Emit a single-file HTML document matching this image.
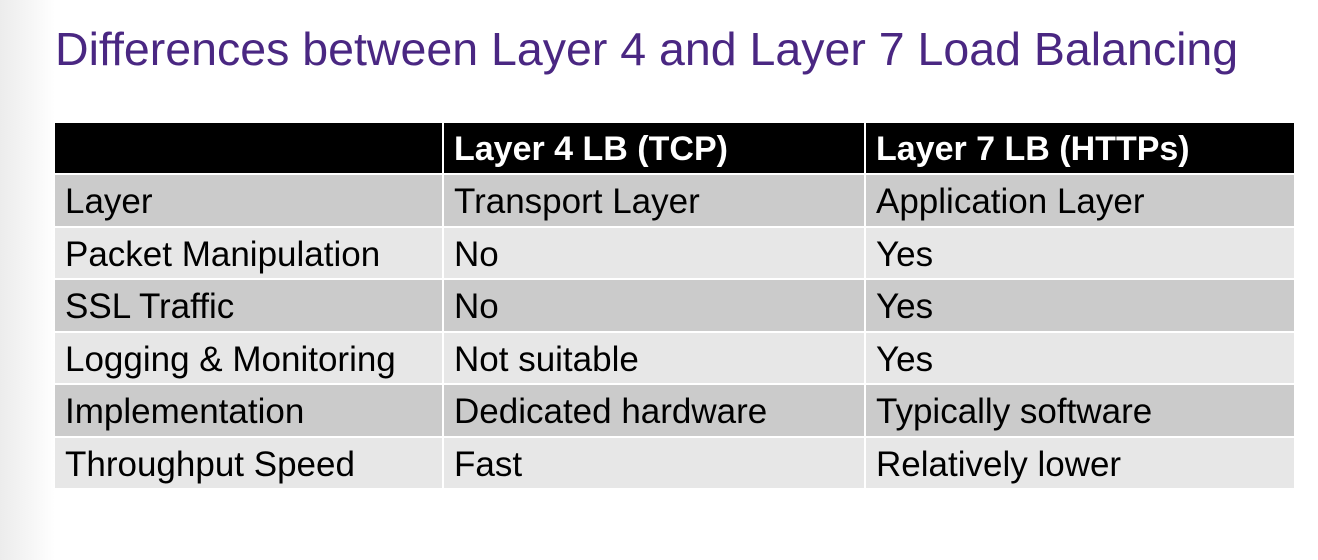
<!DOCTYPE html>
<html><head><meta charset="utf-8"><style>
html,body{margin:0;padding:0}
body{width:1318px;height:560px;position:relative;overflow:hidden;font-family:"Liberation Sans",Arial,sans-serif;background:linear-gradient(to right,#ececec 0px,#f6f6f6 30px,#fff 55px,#fff 100%)}
h1{position:absolute;left:55px;top:22px;margin:0;font-weight:normal;font-size:46.5px;color:#4a2782;white-space:nowrap}
table{position:absolute;left:55px;top:123px;border-collapse:collapse;width:1239px;table-layout:fixed}
td{padding:4px 0 0 10px;font-size:35px;line-height:40px;color:#000;height:52.5px;border:2px solid #fff;box-sizing:border-box;white-space:nowrap;overflow:hidden}
tr.h td{background:#000;color:#fff;font-weight:bold;font-size:34px;height:51px;border-top:none;padding-top:2px}
tr.d td{background:#cbcbcb}
tr.l td{background:#e7e7e7}
td:first-child{border-left:none}
td:last-child{border-right:none}
</style></head><body>
<h1>Differences between Layer 4 and Layer 7 Load Balancing</h1>
<table>
<colgroup><col style="width:388px"><col style="width:422px"><col style="width:429px"></colgroup>
<tr class="h"><td></td><td>Layer 4 LB (TCP)</td><td>Layer 7 LB (HTTPs)</td></tr>
<tr class="d"><td>Layer</td><td>Transport Layer</td><td>Application Layer</td></tr>
<tr class="l"><td>Packet Manipulation</td><td>No</td><td>Yes</td></tr>
<tr class="d"><td>SSL Traffic</td><td>No</td><td>Yes</td></tr>
<tr class="l"><td>Logging &amp; Monitoring</td><td>Not suitable</td><td>Yes</td></tr>
<tr class="d"><td>Implementation</td><td>Dedicated hardware</td><td>Typically software</td></tr>
<tr class="l"><td>Throughput Speed</td><td>Fast</td><td>Relatively lower</td></tr>
</table>
</body></html>
